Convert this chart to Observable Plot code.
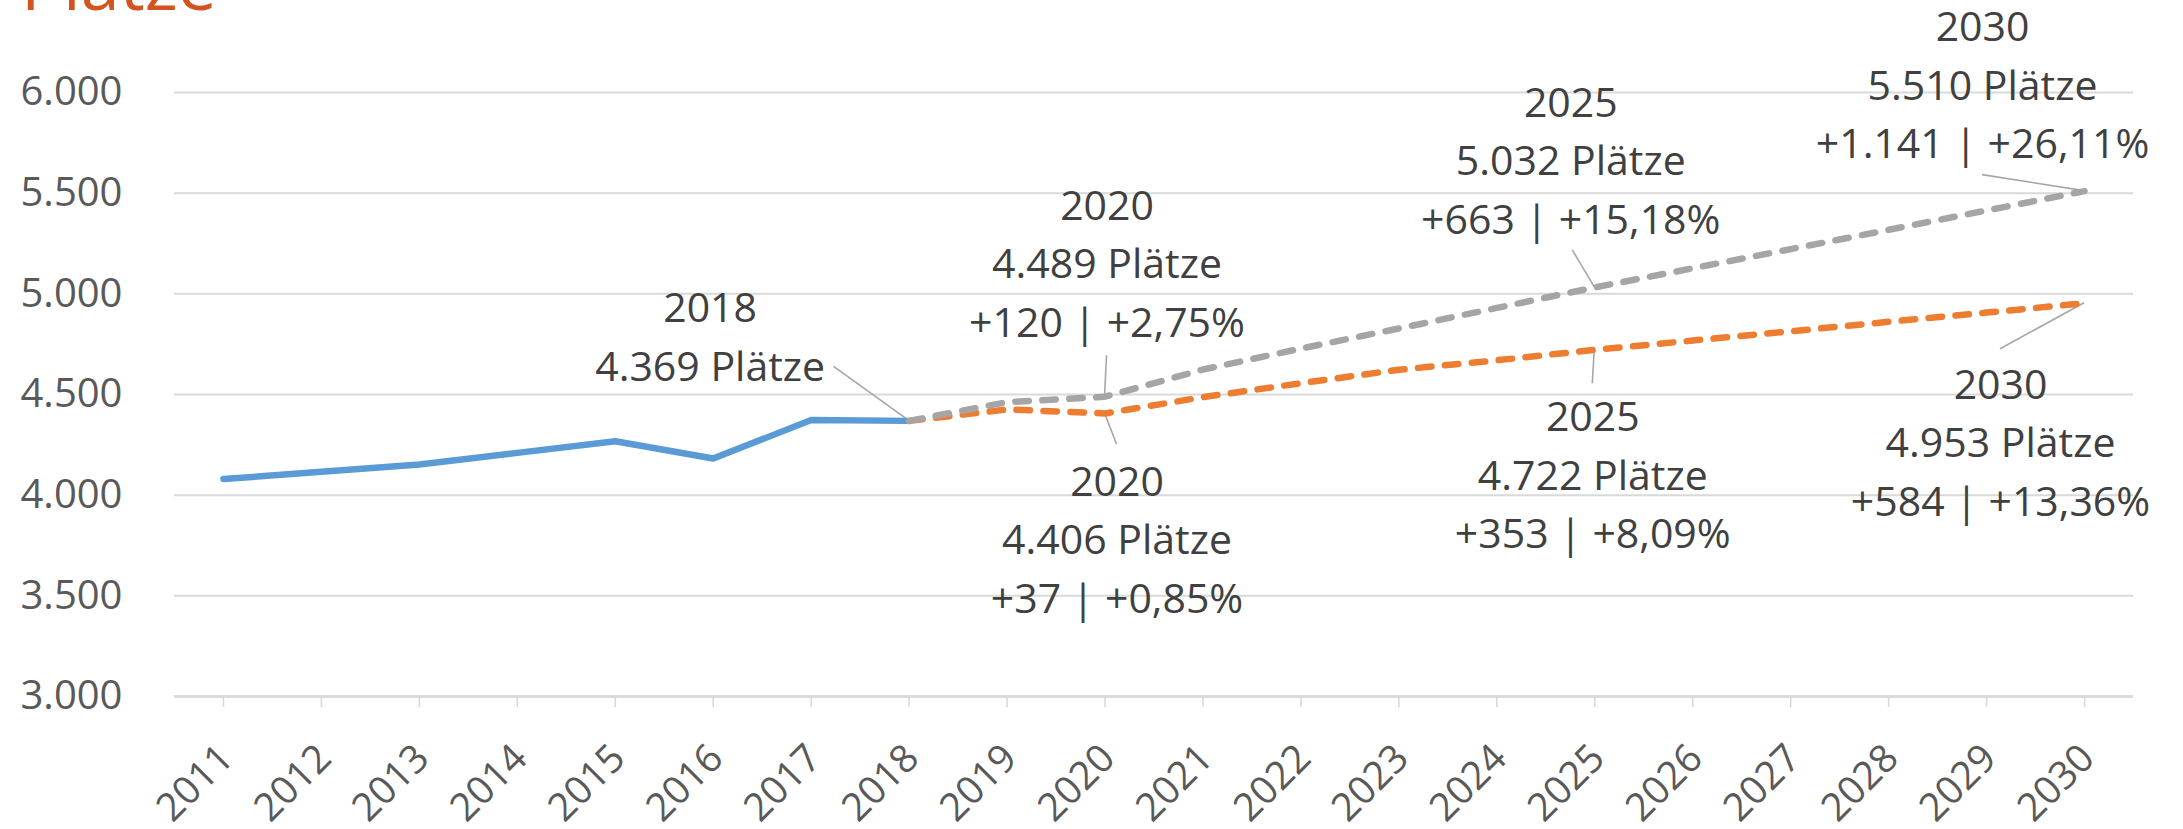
<!DOCTYPE html>
<html>
<head>
<meta charset="utf-8">
<script src="https://cdn.jsdelivr.net/npm/d3@7"></script>
<script src="https://cdn.jsdelivr.net/npm/@observablehq/plot@0.6"></script>
<style>
  html, body { margin: 0; padding: 0; background: #fff; overflow: hidden; }
  #wrap { position: relative; width: 2183px; height: 829px; overflow: hidden; }
  #chart svg { display: block; }
  #title {
    position: absolute; left: 21px; top: -52px; margin: 0;
    font-family: 'Open Sans', 'Noto Sans', sans-serif; font-size: 70px; line-height: 70px;
    font-weight: 400; color: #D4541F; white-space: nowrap; z-index: 2;
  }
</style>
</head>
<body>
<div id="wrap">
  <div id="title"></div>
  <div id="chart"></div>
</div>
<script>
// ---------- data ----------
const titleText = "Plätze";

const xYears = [2011, 2012, 2013, 2014, 2015, 2016, 2017, 2018, 2019, 2020,
                2021, 2022, 2023, 2024, 2025, 2026, 2027, 2028, 2029, 2030];
const xTickLabels = ["2011", "2012", "2013", "2014", "2015", "2016", "2017", "2018", "2019", "2020",
                     "2021", "2022", "2023", "2024", "2025", "2026", "2027", "2028", "2029", "2030"];

const yTicks = [3000, 3500, 4000, 4500, 5000, 5500, 6000];
const yTickLabels = ["3.000", "3.500", "4.000", "4.500", "5.000", "5.500", "6.000"];

// actual seats 2011-2018
const actualYears = [2011, 2012, 2013, 2014, 2015, 2016, 2017, 2018];
const actualValues = [4080, 4116, 4152, 4210, 4268, 4182, 4373, 4369];

// projections 2018-2030
const projYears = [2018, 2019, 2020, 2021, 2022, 2023, 2024, 2025, 2026, 2027, 2028, 2029, 2030];
const highValues = [4369, 4462, 4489, 4624, 4728, 4828, 4930, 5032, 5127, 5222, 5318, 5414, 5510];
const lowValues  = [4369, 4426, 4406, 4487, 4556, 4623, 4670, 4722, 4768, 4814, 4861, 4907, 4953];

// data labels
const annYears  = [2018, 2020, 2020, 2025, 2025, 2030, 2030];
const annValues = [4369, 4489, 4406, 5032, 4722, 5510, 4953];
const annTexts  = [
  "2018\n4.369 Plätze",
  "2020\n4.489 Plätze\n+120 | +2,75%",
  "2020\n4.406 Plätze\n+37 | +0,85%",
  "2025\n5.032 Plätze\n+663 | +15,18%",
  "2025\n4.722 Plätze\n+353 | +8,09%",
  "2030\n5.510 Plätze\n+1.141 | +26,11%",
  "2030\n4.953 Plätze\n+584 | +13,36%"
];

// ---------- layout (pixel offsets of labels / leader lines from their points) ----------
const labelDx  = [-199, 2, 12, -24, -2, -102, -84];
const labelDy  = [-88, -137, 122, -131, 121, -110, 135];
const leaderDx = [-75, 2, 12, -22, -2, -102, -84];
const leaderDy = [-54, -41, 31, -37, 34, -16, 46];

// ---------- styles ----------
const FONT = "'Open Sans', 'Noto Sans', sans-serif";
const AXIS_COLOR = "#595959";
const GRID_COLOR = "#D9D9D9";
const LABEL_COLOR = "#404040";
const LINE_W = 6.5;
const DASH = "13.5,13.5";

const annIndex = annYears.map((_, i) => i);

const leaderMark = Plot.dot(annIndex, {
  x: i => annYears[i],
  y: i => annValues[i],
  render(index, scales, values) {
    const g = d3.create("svg:g");
    for (const i of index) {
      const px = values.x[i], py = values.y[i];
      g.append("line")
        .attr("x1", px).attr("y1", py)
        .attr("x2", px + leaderDx[i]).attr("y2", py + leaderDy[i])
        .attr("stroke", "#A6A6A6")
        .attr("stroke-width", 1.6);
    }
    return g.node();
  }
});

const labelMarks = annIndex.map(i => Plot.text([i], {
  x: j => annYears[j],
  y: j => annValues[j],
  text: j => annTexts[j],
  dx: labelDx[i],
  dy: labelDy[i],
  textAnchor: "middle",
  lineAnchor: "middle",
  lineHeight: 1.427,
  fontSize: 41,
  fontFamily: FONT,
  fill: LABEL_COLOR
}));

const chart = Plot.plot({
  width: 2183,
  height: 829,
  marginTop: 92,
  marginBottom: 133,
  marginLeft: 174,
  marginRight: 50,
  style: { fontFamily: FONT, fontSize: "40px", color: AXIS_COLOR, background: "#fff" },
  x: { domain: [2010.5, 2030.5], axis: null },
  y: { domain: [3000, 6000], axis: null },
  marks: [
    Plot.gridY(yTicks, { stroke: GRID_COLOR, strokeOpacity: 1, strokeWidth: 2 }),
    Plot.ruleY([3000], { stroke: GRID_COLOR, strokeWidth: 2.5 }),
    Plot.axisX({ ticks: xYears, tickSize: 11, tickFormat: () => "", stroke: GRID_COLOR, strokeWidth: 1.6, label: null }),
    Plot.axisY({
      ticks: yTicks,
      tickFormat: d => yTickLabels[yTicks.indexOf(d)],
      tickSize: 0,
      tickPadding: 52,
      fontSize: 40,
      fill: AXIS_COLOR,
      label: null
    }),
    Plot.text(xYears, {
      x: d => d,
      text: (d, i) => xTickLabels[i],
      frameAnchor: "bottom",
      rotate: -45,
      textAnchor: "end",
      dx: 12,
      dy: 64,
      fontSize: 39,
      fill: AXIS_COLOR
    }),
    leaderMark,
    Plot.line(actualYears, {
      x: d => d, y: (d, i) => actualValues[i],
      stroke: "#5B9BD5", strokeWidth: LINE_W, strokeLinejoin: "round", strokeLinecap: "round"
    }),
    Plot.line(projYears, {
      x: d => d, y: (d, i) => lowValues[i],
      stroke: "#ED7D31", strokeWidth: LINE_W, strokeDasharray: DASH,
      strokeLinejoin: "round", strokeLinecap: "round"
    }),
    Plot.line(projYears, {
      x: d => d, y: (d, i) => highValues[i],
      stroke: "#A5A5A5", strokeWidth: LINE_W, strokeDasharray: DASH,
      strokeLinejoin: "round", strokeLinecap: "round"
    }),
    ...labelMarks
  ]
});

document.getElementById("title").textContent = titleText;
document.getElementById("chart").appendChild(chart);
</script>
</body>
</html>
